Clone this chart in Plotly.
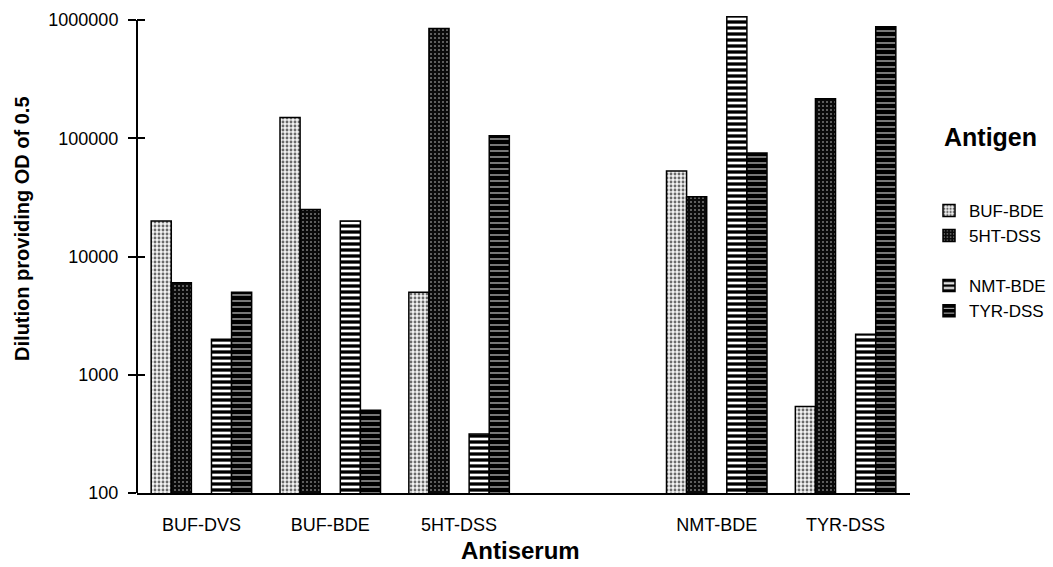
import plotly.graph_objects as go

# Data
antisera = ["BUF-DVS", "BUF-BDE", "5HT-DSS", " ", "NMT-BDE", "TYR-DSS"]
buf_bde = [20000, 150000, 5000, None, 53000, 540]
ht_dss = [6000, 25000, 850000, None, 32000, 216000]
nmt_bde = [2000, 20000, 316, None, 1100000, 2200]
tyr_dss = [5000, 500, 105000, None, 75000, 880000]
blank = [None, None, None, None, None, None]
y_ticks = [100, 1000, 10000, 100000, 1000000]
y_tick_text = ["100", "1000", "10000", "100000", "1000000"]

FONT = "Arial, Liberation Sans, sans-serif"

fig = go.Figure()

def add_bar(name, vals, bg, fg, shape, size, solidity, group, show=True):
    fig.add_trace(go.Bar(
        x=antisera, y=vals, name=name, showlegend=show, legendgroup=group,
        marker=dict(
            color=bg,
            line=dict(color="black", width=1.5),
            pattern=dict(shape=shape, bgcolor=bg, fgcolor=fg, size=size,
                         solidity=solidity, fillmode="replace"),
        ),
    ))

add_bar("BUF-BDE", buf_bde, "#f2f2f2", "#6a6a6a", ".", 4, 0.4, "g1")
add_bar("5HT-DSS", ht_dss, "#0a0a0a", "#7a7a7a", ".", 4, 0.2, "g1")
add_bar("", blank, "white", "white", "", 4, 0.3, "g0", show=False)
add_bar("NMT-BDE", nmt_bde, "#000000", "#ffffff", "-", 6, 0.45, "g2")
add_bar("TYR-DSS", tyr_dss, "#000000", "#dddddd", "-", 6, 0.18, "g2")

W, H = 1053, 567
L, R = 137, 910
top_px, bot_px = 16.4, 492.7
ph = bot_px - top_px
pw = R - L

def px_x(x):
    return (x - L) / pw

def px_y(y):
    return (bot_px - y) / ph

fig.update_layout(
    width=W, height=H,
    margin=dict(l=L, r=W - R, t=top_px, b=H - bot_px, pad=0, autoexpand=False),
    paper_bgcolor="white", plot_bgcolor="white",
    barmode="group", bargap=0.22, bargroupgap=0,
    font=dict(family=FONT, color="black", size=18),
    xaxis=dict(
        type="category", categoryorder="array", categoryarray=antisera,
        showline=True, linecolor="black", linewidth=2,
        ticks="", showgrid=False, tickfont=dict(size=18, family=FONT),
        ticklabelstandoff=14,
    ),
    yaxis=dict(
        type="log", range=[2, 6.035], showline=False, showgrid=False,
        tickvals=y_ticks, ticktext=y_tick_text,
        ticks="outside", ticklen=8, tickwidth=1.5, tickcolor="black",
        tickfont=dict(size=18, family=FONT), ticklabelstandoff=6,
        zeroline=False,
    ),
    yaxis2=dict(
        type="log", range=[2, 6.035], overlaying="y", side="left",
        showline=False, showgrid=False, tickvals=y_ticks,
        showticklabels=False, ticks="inside", ticklen=8, tickwidth=1.5,
        tickcolor="black", zeroline=False,
    ),
    legend=dict(
        x=px_x(929), y=px_y(193), xanchor="left", yanchor="top",
        font=dict(size=17, family=FONT), traceorder="grouped",
        tracegroupgap=25, bgcolor="rgba(0,0,0,0)",
    ),
    shapes=[dict(type="line", xref="paper", yref="paper", x0=0, x1=0,
                 y0=0, y1=px_y(20.5), line=dict(color="black", width=2))],
    annotations=[
        dict(text="<b>Antigen</b>", xref="paper", yref="paper",
             x=px_x(942), y=px_y(137), xanchor="left", yanchor="middle",
             showarrow=False, font=dict(size=25, family=FONT)),
        dict(text="<b>Dilution providing OD of 0.5</b>", xref="paper", yref="paper",
             x=px_x(22), y=px_y(229), xanchor="center", yanchor="middle",
             textangle=-90, showarrow=False, font=dict(size=20, family=FONT)),
        dict(text="<b>Antiserum</b>", xref="paper", yref="paper",
             x=px_x(520), y=px_y(550), xanchor="center", yanchor="middle",
             showarrow=False, font=dict(size=24, family=FONT)),
    ],
)

# dummy trace to activate yaxis2 ticks
fig.add_trace(go.Scatter(x=antisera, y=[None] * len(antisera), yaxis="y2",
                         showlegend=False, hoverinfo="skip"))

fig.write_html("out.html")
